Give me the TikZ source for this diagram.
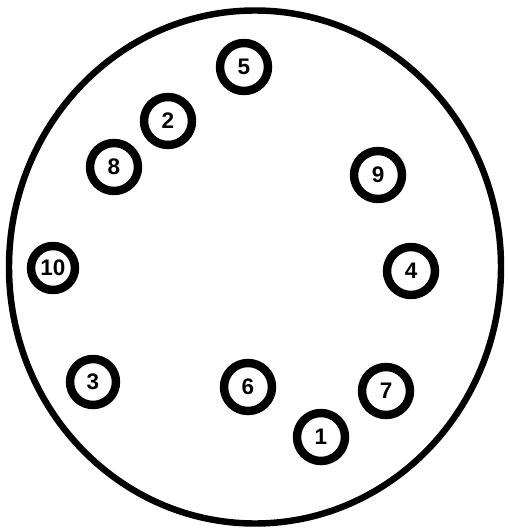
\documentclass[tikz,border=0pt]{standalone}
\usepackage{fontspec}
\setmainfont{Liberation Sans}
\usepackage{tikz}

\begin{document}
\begin{tikzpicture}[
    x=0.025cm, y=-0.025cm,
    rim/.style={draw, line width=4.6pt},
    pin/.style={draw, circle, line width=6pt, minimum size=1.2cm, inner sep=0pt, font=\fontsize{16}{16}\selectfont\bfseries}
]
\useasboundingbox (0,0) rectangle (508,531);
\draw[rim] (255,267) ellipse [x radius=246, y radius=256.5];

\node[pin] (n5) at (244,67) {5};
\node[pin] (n2) at (168,121) {2};
\node[pin] (n8) at (114,167) {8};
\node[pin] (n9) at (378,175) {9};
\node[pin, minimum size=1.1cm] (n10) at (53,268) {10};
\node[pin] (n4) at (411,271) {4};
\node[pin, minimum size=1.15cm] (n3) at (93,382) {3};
\node[pin] (n6) at (248,387) {6};
\node[pin] (n7) at (386,391) {7};
\node[pin] (n1) at (321,437) {1};
\end{tikzpicture}
\end{document}
